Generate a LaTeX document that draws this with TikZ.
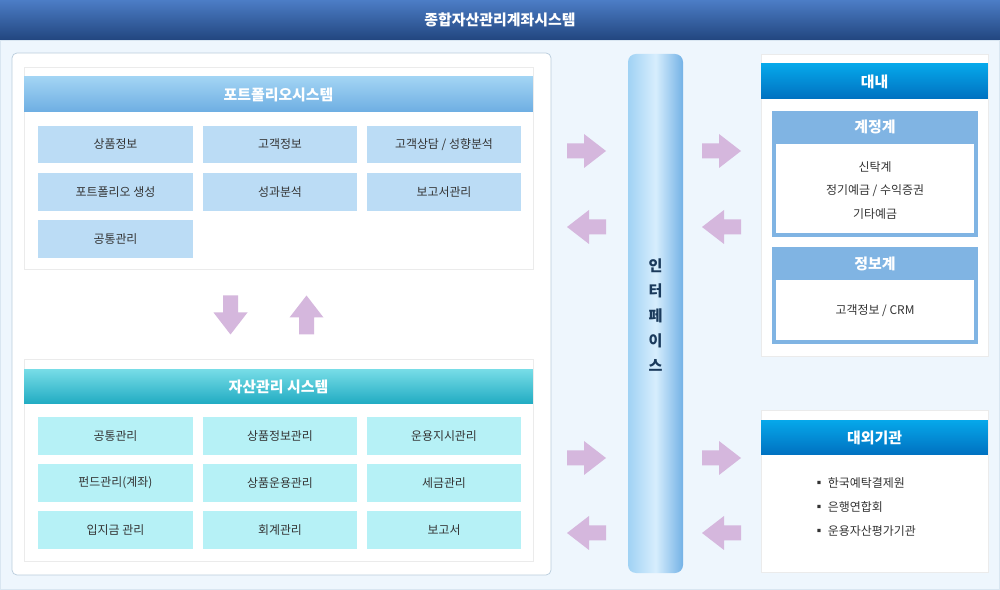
\documentclass[tikz,border=0pt]{standalone}
\usepackage{fontspec}
\setmainfont{Noto Sans CJK KR}
\usetikzlibrary{shadows}

\definecolor{hdtop}{HTML}{4C7DC6}
\definecolor{hdbot}{HTML}{22467F}
\definecolor{bgc}{HTML}{EEF6FD}
\definecolor{framec}{HTML}{B9CCDC}
\definecolor{edgec}{HTML}{D9E6F1}
\definecolor{pfcell}{HTML}{BBDCF5}
\definecolor{pftop}{HTML}{A2D4F4}
\definecolor{pfbot}{HTML}{6EAEE2}
\definecolor{ascell}{HTML}{B6F1F6}
\definecolor{astop}{HTML}{78DDE7}
\definecolor{asbot}{HTML}{20ABC2}
\definecolor{arrowc}{HTML}{D5B7DD}
\definecolor{ifleft}{HTML}{A0D2F4}
\definecolor{ifmid}{HTML}{D7EEFD}
\definecolor{ifright}{HTML}{74B2E6}
\definecolor{iftext}{HTML}{1A3A5C}
\definecolor{intop}{HTML}{06A8EA}
\definecolor{inbot}{HTML}{0070C0}
\definecolor{subc}{HTML}{80B4E3}
\definecolor{txtc}{HTML}{333333}

\tikzset{
	barrow/.pic={
		\fill[arrowc] (-19.5,-7.5) -- (-2.5,-7.5) -- (-2.5,-17) -- (19.5,0)
		-- (-2.5,17) -- (-2.5,7.5) -- (-19.5,7.5) -- cycle;
	}
}

\begin{document}
\begin{tikzpicture}[x=0.02cm, y=-0.02cm,
	cellP/.style={fill=pfcell, minimum width=3.1cm, minimum height=0.75cm, inner sep=0pt,
		text=txtc, font=\fontsize{6.8}{8}\selectfont},
	cellA/.style={cellP, fill=ascell},
	panel/.style={fill=white, draw=black!8, drop shadow={shadow xshift=0.5pt, shadow yshift=-0.5pt, opacity=0.15}},
	ttl/.style={text=white, font=\bfseries\fontsize{8.5}{10}\selectfont},
	hdr/.style={ttl, minimum width=10.18cm, minimum height=0.7cm, inner sep=0pt},
	rhdr/.style={ttl, minimum width=4.54cm, minimum height=0.7cm, inner sep=0pt, top color=intop, bottom color=inbot},
	txt/.style={text=txtc, font=\fontsize{6.8}{8}\selectfont}]
	
	\useasboundingbox (0,0) rectangle (1000,590);
	
	% Nền
	\fill[bgc, draw=edgec] (0.5,40) rectangle (999.5,589.5);
	\shade[top color=hdtop, bottom color=hdbot] (0,0) rectangle (1000,40);
	\node[ttl] (title) at (500,20) {종합자산관리계좌시스템};
	
	% Khung trái
	\draw[fill=white, draw=framec, rounded corners=0.1cm] (12,53) rectangle (551,575);
	\draw[panel] (24,67) rectangle (533,269);
	\draw[panel] (24,359) rectangle (533,561);
	\node[hdr, top color=pftop, bottom color=pfbot] (pfh) at (278.5,94.5) {포트폴리오시스템};
	\node[hdr, top color=astop, bottom color=asbot] (ash) at (278.5,386.5) {자산관리 시스템};
	
	\foreach \name/\x/\y/\t in {
		p1/115.5/144.5/상품정보, p2/280/144.5/고객정보, p3/444/144.5/{고객상담 / 성향분석},
		p4/115.5/192/포트폴리오 생성, p5/280/192/성과분석, p6/444/192/보고서관리,
		p7/115.5/239/공통관리
	}{
		\node[cellP] (\name) at (\x,\y) {\t};
	}
	\foreach \name/\x/\y/\t in {
		a1/115.5/436/공통관리, a2/280/436/상품정보관리, a3/444/436/운용지시관리,
		a4/115.5/483/펀드관리(계좌), a5/280/483/상품운용관리, a6/444/483/세금관리,
		a7/115.5/530/입지금 관리, a8/280/530/회계관리, a9/444/530/보고서
	}{
		\node[cellA] (\name) at (\x,\y) {\t};
	}
	
	% Thanh giao diện
	\shade[left color=ifleft, right color=ifright, middle color=ifmid, rounded corners=0.16cm]
	(628,54) rectangle (683,573);
	\node[align=center, text=iftext, font=\bfseries\fontsize{8.6}{14.2}\selectfont] (ifc) at (655.5,315)
	{인\\터\\페\\이\\스};
	
	% Mũi tên
	\foreach \x/\y/\r in {
		586.5/151/0, 586.5/227/180, 721.5/151/0, 721.5/227/180,
		586.5/458/0, 586.5/533/180, 721.5/458/0, 721.5/533/180,
		230.5/315/-90, 306.5/315/90
	}{
		\pic[rotate=\r] at (\x,\y) {barrow};
	}
	
	% Khung phải
	\draw[panel] (761,54) rectangle (988,356);
	\node[rhdr] (inh) at (874.5,81.5) {대내};
	\fill[subc] (772,111) rectangle (978,237);
	\fill[white] (776,144) rectangle (974,233);
	\node[ttl] (acc) at (875,127) {계정계};
	\node[txt] (t1) at (875,167) {신탁계};
	\node[txt] (t2) at (875,191) {정기예금 / 수익증권};
	\node[txt] (t3) at (875,214) {기타예금};
	\fill[subc] (772,247) rectangle (978,344);
	\fill[white] (776,280) rectangle (974,340);
	\node[ttl] (inf) at (875,264) {정보계};
	\node[txt] (t4) at (875,311) {고객정보 / CRM};
	
	\draw[panel] (761,410) rectangle (988,572);
	\node[txt, anchor=west] (e1) at (807,483) {▪ 한국예탁결제원};
	\node[txt, anchor=west] (e2) at (807,507) {▪ 은행연합회};
	\node[txt, anchor=west] (e3) at (807,531) {▪ 운용자산평가기관};
	\node[rhdr] (exh) at (874.5,437.5) {대외기관};
	
\end{tikzpicture}
\end{document}
